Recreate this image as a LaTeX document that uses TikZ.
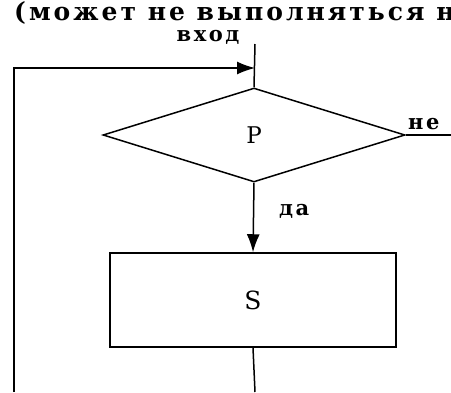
\documentclass[tikz,border=0pt]{standalone}
\usepackage{fontspec}
\setmainfont{DejaVu Serif}
\newfontfamily\wideserif[LetterSpace=12]{DejaVu Serif}
\usetikzlibrary{shapes.geometric, arrows.meta, positioning}

\tikzset{
  flow/.style={line width=1.5pt, black},
  cond/.style={diamond, draw, line width=1.5pt, minimum width=302pt, minimum height=94pt, inner sep=0pt, font=\fontsize{23}{23}\selectfont},
  block/.style={rectangle, draw, line width=1.5pt, minimum width=286pt, minimum height=94pt, inner sep=0pt, font=\fontsize{25}{25}\selectfont},
  lbl/.style={font=\wideserif\bfseries\fontsize{21}{21}\selectfont, inner sep=0pt},
  tip/.style={-{Latex[length=18pt,width=13pt]}}
}

\begin{document}
\begin{tikzpicture}[x=1pt,y=-1pt]
  \clip (0,0) rectangle (451,392);
  \useasboundingbox (0,0) rectangle (451,392);
  % caption line, cut by the frame
  \node[lbl, anchor=base west, font=\wideserif\bfseries\fontsize{25}{25}\selectfont] (cap) at (14,20) {(может не выполняться ни};
  \node[lbl] (vhod) at (208,37) {вход};
  % blocks
  \node[cond] (p) at (254,135) {P};
  \node[block] (s) at (253,300) {S};
  \node[lbl, anchor=west] (no) at (408,124) {не};
  \node[lbl, anchor=west] (yes) at (279,211) {да};
  % free ends
  \coordinate (in) at (255,44);
  \coordinate (join) at (255,68);
  \coordinate (lt) at (14,68);
  \coordinate (lb) at (14,392);
  \coordinate (sb) at (255,392);
  \coordinate (out) at (451,135);
  % connectors
  \draw[flow] (in) -- (p.north);
  \draw[flow, tip] (lb) -- (lt) -- (join);
  \draw[flow, tip] (p.south) -- (s.north);
  \draw[flow] (s.south) -- (sb);
  \draw[flow] (p.east) -- (out);
\end{tikzpicture}
\end{document}
